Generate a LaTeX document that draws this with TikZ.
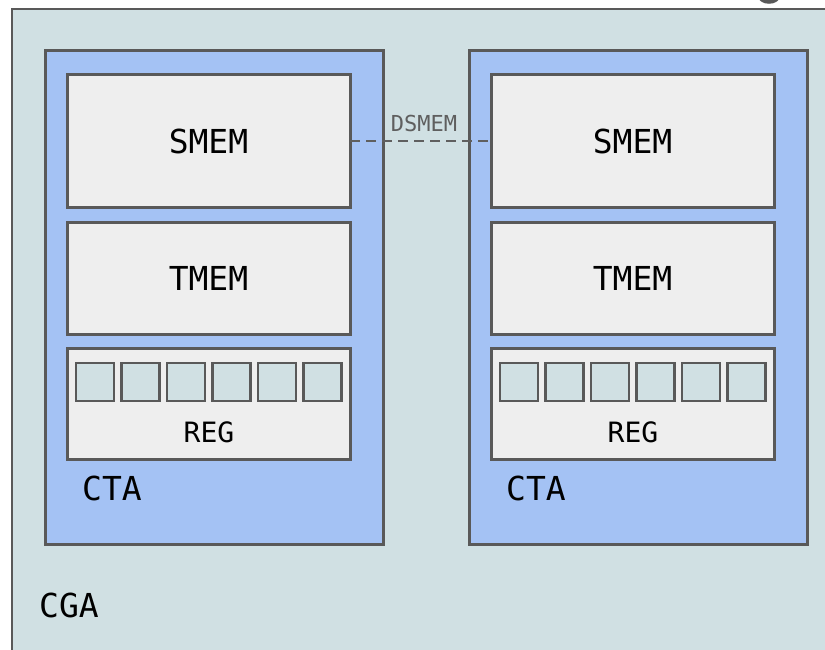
\documentclass[tikz,border=0pt]{standalone}
\usepackage{fontspec}
\setmainfont{DejaVu Sans Mono}
\definecolor{cgafill}{HTML}{D0E0E3}
\definecolor{ctafill}{HTML}{A4C2F4}
\definecolor{memfill}{HTML}{EEEEEE}
\definecolor{edge}{HTML}{595959}
\definecolor{linkgray}{HTML}{5F5F5F}
\begin{document}
\begin{tikzpicture}[x=1pt,y=-1pt,
  box/.style={draw=edge,line width=3pt,inner sep=0pt,outer sep=0pt,rectangle},
  ctabox/.style={box,fill=ctafill,minimum width=338pt,minimum height=493pt},
  membox/.style={box,fill=memfill,minimum width=283pt},
  regcell/.style={box,fill=cgafill,line width=2.2pt,minimum width=38pt,minimum height=38pt},
  bigtext/.style={font=\fontsize{33}{33}\selectfont,text=black,inner sep=0pt},
  regtext/.style={font=\fontsize{28}{28}\selectfont,text=black,inner sep=0pt},
  linktext/.style={font=\fontsize{22}{22}\selectfont,text=linkgray,inner sep=0pt},
  link/.style={draw=linkgray,line width=2.6pt,dash pattern=on 10pt off 6pt}]
\useasboundingbox (0,0) rectangle (825,650);
\clip (0,0) rectangle (825,650);
\fill[white] (0,0) rectangle (825,650);
% tail of the heading glyph above the cluster
\draw[edge,line width=3.5pt] (760,-3.5) arc[start angle=180,end angle=360,x radius=9pt,y radius=5.5pt];
% cluster
\draw[edge,fill=cgafill,line width=2.4pt] (12,9) rectangle (860,680);
\node[bigtext,anchor=base west] (cga) at (39,617) {CGA};
% two CTAs
\foreach \i/\dx in {l/0,r/424}{
  \node[ctabox] (cta\i) at (214+\dx,297.5) {};
  \node[membox,minimum height=132pt] (smem\i) at (208.5+\dx,141) {};
  \node[bigtext] (smemt\i) at (smem\i.center) {SMEM};
  \node[membox,minimum height=112pt] (tmem\i) at (208.5+\dx,278) {};
  \node[bigtext] (tmemt\i) at (tmem\i.center) {TMEM};
  \node[membox,minimum height=111pt] (reg\i) at (208.5+\dx,403.5) {};
  \node[regtext,anchor=base] (regt\i) at (209+\dx,442) {REG};
  \foreach \k in {0,...,5}{
    \node[regcell] (cell\i\k) at (95+\dx+45.5*\k,382) {};
  }
  \node[bigtext,anchor=base west] (ctat\i) at (82+\dx,500) {CTA};
}
% distributed shared memory link
\draw[link] (smeml.east) -- (smemr.west);
\node[linktext,anchor=base] (dsmem) at (424,132) {DSMEM};
\end{tikzpicture}
\end{document}
